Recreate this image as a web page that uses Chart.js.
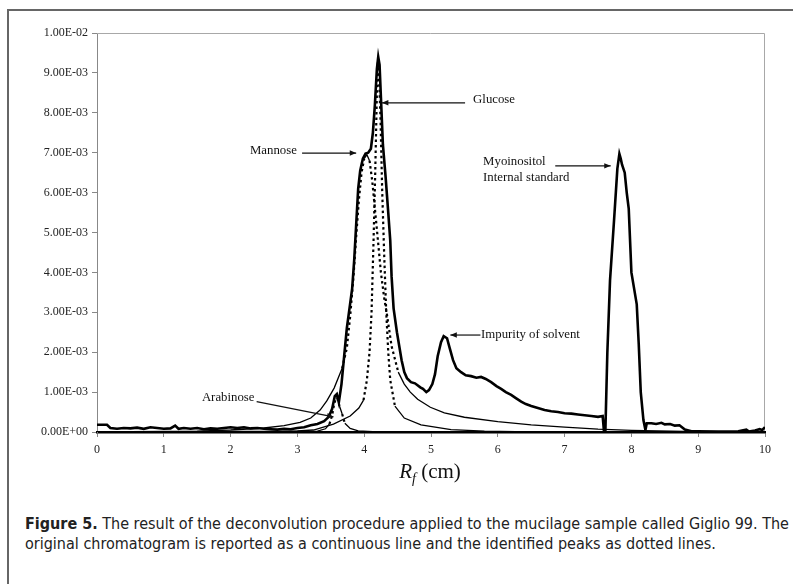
<!DOCTYPE html>
<html lang="en">
<head>
  <meta charset="UTF-8" />
  <title>Figure 5 - Giglio 99 deconvolution</title>
  <script src="https://cdn.jsdelivr.net/npm/chart.js"></script>
  <style>
    body {
      margin: 0;
      background: #fff;
      width: 793px;
      height: 584px;
      overflow: hidden;
      position: relative;
      font-family: "Liberation Serif", serif;
    }
    #frame {
      position: absolute;
      left: 7px;
      top: 9px;
      right: -10px;
      bottom: -10px;
      border-left: 2px solid #666;
      border-top: 2px solid #666;
    }
    #chart-box {
      position: absolute;
      left: 0;
      top: 0;
      width: 793px;
      height: 462px;
    }
    #xtitle {
      position: absolute;
      left: 330px;
      width: 200px;
      top: 459px;
      text-align: center;
      font-size: 21px;
      color: #111;
    }
    #xtitle sub { font-size: 14px; }
    #caption {
      position: absolute;
      left: 25px;
      top: 514px;
      width: 770px;
      font-family: "Liberation Sans Narrow", "DejaVu Sans", sans-serif;
      font-stretch: condensed;
      font-size: 16px;
      line-height: 20px;
      color: #222;
    }
  </style>
</head>
<body>
  <div id="frame"></div>
  <div id="chart-box"><canvas id="cromatograma"></canvas></div>
  <div id="xtitle"><i>R<sub>f</sub></i> (cm)</div>
  <div id="caption"><b>Figure 5.</b> The result of the deconvolution procedure applied to the mucilage sample called Giglio 99. The original chromatogram is reported as a continuous line and the identified peaks as dotted lines.</div>

  <script>
    // y values are in units of 1E-03
    const yTickLabels = ['0.00E+00', '1.00E-03', '2.00E-03', '3.00E-03', '4.00E-03', '5.00E-03',
                         '6.00E-03', '7.00E-03', '8.00E-03', '9.00E-03', '1.00E-02'];
    const xTickLabels = ['0', '1', '2', '3', '4', '5', '6', '7', '8', '9', '10'];

    // original chromatogram (continuous line)
    const origX = [0, 0.15, 0.2, 0.3, 0.4, 0.5, 0.6, 0.7, 0.8, 0.9, 1.0, 1.1, 1.17, 1.22, 1.3, 1.4, 1.5, 1.6, 1.7, 1.8,
      1.9, 2.0, 2.1, 2.2, 2.3, 2.4, 2.5, 2.6, 2.7, 2.8, 2.9, 3.0, 3.1, 3.2, 3.3, 3.4, 3.47, 3.52, 3.56, 3.59,
      3.62, 3.66, 3.7, 3.74, 3.78, 3.82, 3.85, 3.88, 3.91, 3.94, 3.98, 4.02, 4.06, 4.1, 4.13, 4.16, 4.19, 4.21, 4.23, 4.25,
      4.28, 4.32, 4.36, 4.39, 4.41, 4.44, 4.49, 4.53, 4.56, 4.6, 4.64, 4.7, 4.76, 4.84, 4.88, 4.93, 4.97, 5.02, 5.06, 5.1,
      5.15, 5.19, 5.24, 5.28, 5.33, 5.38, 5.45, 5.52, 5.6, 5.68, 5.75, 5.82, 5.9, 5.98, 6.05, 6.12, 6.2, 6.27, 6.35, 6.42,
      6.5, 6.6, 6.7, 6.8, 6.9, 7.0, 7.1, 7.2, 7.3, 7.4, 7.5, 7.57, 7.59, 7.61, 7.64, 7.68, 7.74, 7.79, 7.82, 7.84,
      7.86, 7.9, 7.93, 7.96, 8.0, 8.04, 8.08, 8.11, 8.14, 8.18, 8.21, 8.23, 8.3, 8.37, 8.45, 8.5, 8.58, 8.65, 8.72, 8.8,
      8.9, 9.0, 9.3, 9.6, 9.72, 9.76, 9.85, 9.92, 9.96, 10];
    const origY = [0.18, 0.18, 0.1, 0.08, 0.1, 0.09, 0.11, 0.08, 0.12, 0.1, 0.08, 0.09, 0.16, 0.08, 0.1, 0.08, 0.1, 0.07, 0.09, 0.08,
      0.1, 0.12, 0.1, 0.12, 0.09, 0.1, 0.08, 0.07, 0.06, 0.08, 0.07, 0.1, 0.12, 0.17, 0.2, 0.27, 0.38, 0.58, 0.9, 0.95,
      0.74, 1.2, 1.9, 2.6, 3.1, 3.6, 4.3, 5.2, 6.1, 6.55, 6.85, 6.98, 7.0, 7.1, 7.5, 8.2, 9.1, 9.4, 9.2, 8.4,
      7.2, 6.4, 5.5, 4.8, 3.9, 3.1, 2.5, 2.1, 1.8, 1.5, 1.35, 1.25, 1.22, 1.12, 1.08, 1.0, 1.05, 1.2, 1.45, 1.9,
      2.25, 2.4, 2.35, 2.1, 1.8, 1.6, 1.5, 1.42, 1.4, 1.36, 1.38, 1.33, 1.25, 1.15, 1.08, 1.0, 0.93, 0.85, 0.76, 0.7,
      0.65, 0.6, 0.55, 0.52, 0.5, 0.47, 0.46, 0.44, 0.42, 0.4, 0.38, 0.4, 0.0, 0.0, 2.0, 3.8, 5.3, 6.6, 6.97, 6.85,
      6.7, 6.5, 6.0, 5.6, 4.0, 3.6, 3.2, 2.2, 1.0, 0.3, 0.05, 0.22, 0.22, 0.2, 0.23, 0.19, 0.2, 0.16, 0.17, 0.06,
      0.02, 0.02, 0.01, 0.02, 0.06, 0.01, 0.04, 0.07, 0.05, 0.12];

    // identified peaks (dotted lines)
    const mannoseX = [0, 1.5, 2.0, 2.5, 2.8, 3.04, 3.2, 3.34, 3.44, 3.55, 3.67, 3.74, 3.79, 3.84, 3.88, 3.92, 3.96, 4.0, 4.04, 4.08,
      4.12, 4.16, 4.2, 4.25, 4.3, 4.34, 4.41, 4.51, 4.6, 4.69, 4.8, 4.99, 5.2, 5.5, 6.0, 6.5, 7.0, 7.5, 8.0, 9.0, 10];
    const mannoseY = [0, 0.02, 0.05, 0.1, 0.16, 0.24, 0.35, 0.55, 0.78, 1.1, 1.6, 2.1, 2.9, 3.9, 4.9, 5.8, 6.5, 6.85, 6.95, 6.8,
      6.3, 5.6, 4.9, 4.0, 3.35, 2.95, 2.15, 1.5, 1.2, 1.0, 0.82, 0.62, 0.48, 0.37, 0.26, 0.18, 0.12, 0.07, 0.04, 0.01, 0];

    const glucoseX = [0, 2.5, 3.0, 3.24, 3.54, 3.79, 3.92, 3.99, 4.04, 4.08, 4.11, 4.14, 4.165, 4.19, 4.205, 4.22, 4.245, 4.27, 4.3, 4.33,
      4.36, 4.39, 4.46, 4.6, 4.85, 5.3, 5.8, 6.5, 10];
    const glucoseY = [0, 0.01, 0.03, 0.05, 0.2, 0.4, 0.6, 0.8, 1.3, 2.0, 3.0, 4.8, 6.5, 8.5, 9.3, 9.05, 7.8, 6.0, 4.4, 3.0,
      2.0, 1.3, 0.65, 0.35, 0.18, 0.06, 0.02, 0, 0];

    const arabinoseX = [0, 3.3, 3.42, 3.48, 3.52, 3.55, 3.58, 3.6, 3.63, 3.67, 3.71, 3.79, 3.91, 4.2, 10];
    const arabinoseY = [0, 0.02, 0.08, 0.2, 0.42, 0.7, 0.86, 0.84, 0.65, 0.45, 0.22, 0.09, 0.03, 0, 0];

    const toPoints = (xs, ys) => xs.map((x, i) => ({ x: x, y: ys[i] }));

    // label + arrow annotations, in data units
    const notas = [
      { text: ['Mannose'], tx: 2.29, ty: 7.04, from: [3.07, 6.99], to: [3.88, 6.99] },
      { text: ['Glucose'], tx: 5.63, ty: 8.34, from: [5.51, 8.25], to: [4.265, 8.25] },
      { text: ['Myoinositol', 'Internal standard'], tx: 5.78, ty: 6.77, from: [6.86, 6.67], to: [7.69, 6.67] },
      { text: ['Impurity of solvent'], tx: 5.75, ty: 2.43, from: [5.74, 2.43], to: [5.29, 2.43] },
      { text: ['Arabinose'], tx: 1.57, ty: 0.87, from: [2.39, 0.76], to: [3.54, 0.38] }
    ];

    // steep segments show the dotted pattern, flat tails look continuous
    function empinado(ctx) {
      const dx = Math.abs(ctx.p1.x - ctx.p0.x);
      const dy = Math.abs(ctx.p1.y - ctx.p0.y);
      return dy > 3 * dx && dy > 4;
    }
    const picoEstilo = {
      borderDash: ctx => empinado(ctx) ? [2.5, 3] : undefined,
      borderWidth: ctx => empinado(ctx) ? 2.2 : undefined
    };

    const marcoPlugin = {
      id: 'marco',
      beforeDatasetsDraw(chart) {
        const a = chart.chartArea;
        const c = chart.ctx;
        c.save();
        c.strokeStyle = '#a8a8a8';
        c.lineWidth = 1;
        c.beginPath();
        c.moveTo(a.left, a.top + 0.5);
        c.lineTo(a.right - 0.5, a.top + 0.5);
        c.lineTo(a.right - 0.5, a.bottom);
        c.stroke();
        c.restore();
      }
    };

    const notasPlugin = {
      id: 'notas',
      afterDatasetsDraw(chart) {
        const c = chart.ctx;
        const sx = chart.scales.x, sy = chart.scales.y;
        c.save();
        c.font = '12.8px "Liberation Serif"';
        c.fillStyle = '#111';
        c.strokeStyle = '#111';
        c.lineWidth = 1.2;
        c.textBaseline = 'middle';
        notas.forEach(n => {
          n.text.forEach((t, i) => {
            c.fillText(t, sx.getPixelForValue(n.tx), sy.getPixelForValue(n.ty) + i * 15.5);
          });
          const x0 = sx.getPixelForValue(n.from[0]), y0 = sy.getPixelForValue(n.from[1]);
          const x1 = sx.getPixelForValue(n.to[0]), y1 = sy.getPixelForValue(n.to[1]);
          c.beginPath();
          c.moveTo(x0, y0);
          c.lineTo(x1, y1);
          c.stroke();
          const ang = Math.atan2(y1 - y0, x1 - x0);
          c.beginPath();
          c.moveTo(x1, y1);
          c.lineTo(x1 - 7 * Math.cos(ang - 0.4), y1 - 7 * Math.sin(ang - 0.4));
          c.lineTo(x1 - 7 * Math.cos(ang + 0.4), y1 - 7 * Math.sin(ang + 0.4));
          c.closePath();
          c.fill();
        });
        c.restore();
      }
    };

    const fuenteEjes = { family: 'Liberation Serif', size: 12 };

    new Chart(document.getElementById('cromatograma').getContext('2d'), {
      type: 'line',
      data: {
        datasets: [
          {
            label: 'Original chromatogram',
            data: toPoints(origX, origY),
            borderColor: '#000',
            borderWidth: 2.6,
            pointRadius: 0,
            tension: 0
          },
          {
            label: 'Arabinose',
            data: toPoints(arabinoseX, arabinoseY),
            borderColor: '#000',
            borderWidth: 1.3,
            borderDash: [],
            pointRadius: 0,
            segment: picoEstilo
          },
          {
            label: 'Mannose',
            data: toPoints(mannoseX, mannoseY),
            borderColor: '#000',
            borderWidth: 1.3,
            borderDash: [],
            pointRadius: 0,
            segment: picoEstilo
          },
          {
            label: 'Glucose',
            data: toPoints(glucoseX, glucoseY),
            borderColor: '#000',
            borderWidth: 1.3,
            borderDash: [],
            pointRadius: 0,
            segment: picoEstilo
          }
        ]
      },
      options: {
        responsive: true,
        maintainAspectRatio: false,
        animation: false,
        layout: { padding: { left: 0, top: 33, right: 28, bottom: 0 } },
        plugins: {
          legend: { display: false },
          tooltip: { enabled: false }
        },
        scales: {
          x: {
            type: 'linear',
            min: 0,
            max: 10,
            ticks: {
              stepSize: 1,
              padding: 6,
              color: '#222',
              font: fuenteEjes,
              callback: v => xTickLabels[v]
            },
            grid: { drawOnChartArea: false, drawTicks: true, tickLength: 5, color: '#888' },
            border: { display: true, color: '#000', width: 2.5 },
            afterFit: s => { s.height = 30; }
          },
          y: {
            min: 0,
            max: 10,
            ticks: {
              stepSize: 1,
              padding: 4,
              color: '#222',
              font: fuenteEjes,
              callback: v => yTickLabels[v]
            },
            grid: { drawOnChartArea: false, drawTicks: true, tickLength: 5, color: '#888' },
            border: { display: true, color: '#888', width: 1 },
            afterFit: s => { s.width = 97; }
          }
        }
      },
      plugins: [marcoPlugin, notasPlugin]
    });
  </script>
</body>
</html>
